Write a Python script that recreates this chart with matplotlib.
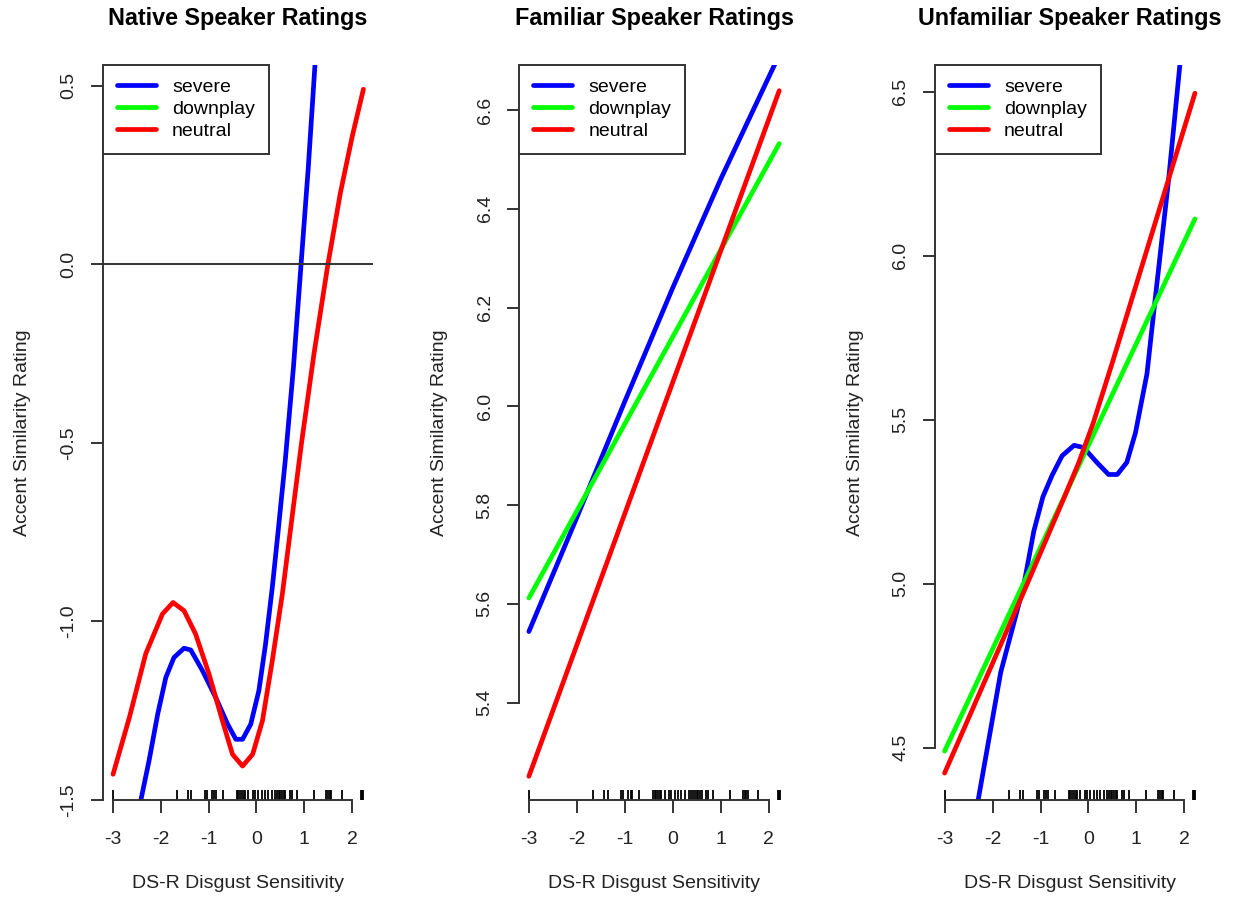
## three panels of predicted accent similarity vs DS-R disgust sensitivity
import matplotlib.pyplot as plt

plt.rcParams['font.family'] = ['Liberation Sans', 'DejaVu Sans']
plt.rcParams['axes.unicode_minus'] = False

## rug of observed DS-R scores (same participants in every panel)
rug_x = [-3.0, -1.66, -1.43, -1.36, -1.07, -1.03, -0.93, -0.88, -0.84, -0.70,
         -0.41, -0.38, -0.34, -0.31, -0.27, -0.24, -0.17, -0.08, -0.03, 0.04,
         0.11, 0.18, 0.25, 0.33, 0.39, 0.43, 0.46, 0.50, 0.53, 0.57, 0.60,
         0.70, 0.74, 0.84, 1.19, 1.46, 1.50, 1.53, 1.56, 1.78, 2.19, 2.21, 2.23]

## native speakers
native_severe_x = [-2.41, -2.24, -2.06, -1.89, -1.72, -1.51, -1.37, -1.125, -0.85, -0.60,
                   -0.43, -0.29, -0.12, 0.05, 0.19, 0.33, 0.45, 0.60, 0.77, 0.93, 1.08, 1.22]
native_severe_y = [-1.50, -1.39, -1.26, -1.157, -1.101, -1.075, -1.08, -1.138, -1.213, -1.288,
                   -1.330, -1.330, -1.288, -1.194, -1.063, -0.905, -0.75, -0.55, -0.29, 0.0, 0.27, 0.558]
native_neutral_x = [-2.99, -2.65, -2.31, -1.96, -1.74, -1.51, -1.27, -0.99, -0.71, -0.50, -0.29,
                    -0.08, 0.125, 0.33, 0.54, 0.75, 0.94, 1.2, 1.49, 1.75, 2.0, 2.23]
native_neutral_y = [-1.428, -1.269, -1.091, -0.979, -0.947, -0.970, -1.035, -1.147, -1.278, -1.372, -1.405,
                    -1.372, -1.278, -1.11, -0.923, -0.70, -0.50, -0.25, 0.0, 0.2, 0.36, 0.49]

## familiar speakers
familiar_severe_x = [-3.0, -2.0, -1.0, 0.0, 1.0, 2.13]
familiar_severe_y = [5.544, 5.775, 6.01, 6.24, 6.46, 6.693]
familiar_downplay_x = [-3.0, 2.22]
familiar_downplay_y = [5.612, 6.532]
familiar_neutral_x = [-3.0, 2.22]
familiar_neutral_y = [5.251, 6.639]

## unfamiliar speakers
unfamiliar_severe_x = [-2.30, -1.83, -1.52, -1.35, -1.14, -0.95, -0.76, -0.55, -0.30, -0.10,
                       0.18, 0.42, 0.60, 0.80, 0.98, 1.22, 1.38, 1.67, 1.905]
unfamiliar_severe_y = [4.341, 4.73, 4.90, 4.995, 5.16, 5.265, 5.33, 5.39, 5.422, 5.415,
                       5.369, 5.333, 5.333, 5.37, 5.46, 5.64, 5.853, 6.23, 6.58]
unfamiliar_downplay_x = [-3.0, 2.22]
unfamiliar_downplay_y = [4.490, 6.112]
unfamiliar_neutral_x = [-3.0, -1.35, -0.5, -0.2, 0.1, 0.5, 2.22]
unfamiliar_neutral_y = [4.423, 4.975, 5.265, 5.37, 5.49, 5.675, 6.495]

x_ticks = [-3, -2, -1, 0, 1, 2]
line_colors = {'severe': '#0000ff', 'downplay': '#00ff00', 'neutral': '#ff0000'}
axis_col = '#333333'

fig = plt.figure(figsize=(12.33, 9), dpi=100)
W, H = 1233.0, 900.0


def draw_panel(left_px, title, ylim, yticks, curves, zero_line=False):
    ax = fig.add_axes([left_px / W, 100 / H, 270 / W, 735 / H])
    for name in ['severe', 'downplay', 'neutral']:
        xs, ys = curves.get(name, ([], []))
        ax.plot(xs, ys, color=line_colors[name], lw=3.4, solid_capstyle='round',
                solid_joinstyle='round', label=name)
    if zero_line:
        ax.axhline(0, color=axis_col, lw=1.4)
    ## rug along the bottom
    ax.vlines(rug_x, 0, 10 / 735., transform=ax.get_xaxis_transform(), color='black', lw=1.3)

    ax.set_xlim(-3.2, 2.43)
    ax.set_ylim(*ylim)
    ax.set_xticks(x_ticks)
    ax.set_xticklabels([str(t) for t in x_ticks])
    ax.set_yticks(yticks)
    ax.set_yticklabels(['%.1f' % t for t in yticks])

    for side in ['top', 'right']:
        ax.spines[side].set_visible(False)
    ax.spines['left'].set_bounds(yticks[0], yticks[-1])
    ax.spines['bottom'].set_bounds(-3, 2)
    for side in ['left', 'bottom']:
        ax.spines[side].set_linewidth(1.4)
        ax.spines[side].set_color(axis_col)

    ax.tick_params(axis='both', direction='out', length=9, width=1.4, color=axis_col,
                   labelsize=14, labelcolor='#222222')
    ax.tick_params(axis='x', pad=13)
    ax.tick_params(axis='y', pad=9.5, labelrotation=90)
    for lab in ax.get_yticklabels():
        lab.set_va('center')

    ax.set_xlabel('DS-R Disgust Sensitivity', fontsize=14, va='center', color='#222222')
    ax.xaxis.set_label_coords(0.5, -83 / 735.)
    ax.set_ylabel('Accent Similarity Rating', fontsize=14, va='center', color='#222222')
    ax.yaxis.set_label_coords(-80 / 270., 0.5)
    ax.set_title(title, fontsize=16.8, fontweight='bold', y=782 / 735., va='center', pad=0)

    leg = ax.legend(loc='upper left', bbox_to_anchor=(0, 1), borderaxespad=0, fontsize=14,
                    fancybox=False, framealpha=1, edgecolor=axis_col, handlelength=2.0,
                    handletextpad=0.85, labelspacing=0.22, borderpad=0.7)
    leg.get_frame().set_linewidth(1.4)
    return ax


draw_panel(103, 'Native Speaker Ratings', (-1.5, 0.558), [-1.5, -1.0, -0.5, 0.0, 0.5],
           {'severe': (native_severe_x, native_severe_y),
            'neutral': (native_neutral_x, native_neutral_y)}, zero_line=True)
draw_panel(519.3, 'Familiar Speaker Ratings', (5.203, 6.691), [5.4, 5.6, 5.8, 6.0, 6.2, 6.4, 6.6],
           {'severe': (familiar_severe_x, familiar_severe_y),
            'downplay': (familiar_downplay_x, familiar_downplay_y),
            'neutral': (familiar_neutral_x, familiar_neutral_y)})
draw_panel(935, 'Unfamiliar Speaker Ratings', (4.341, 6.581), [4.5, 5.0, 5.5, 6.0, 6.5],
           {'severe': (unfamiliar_severe_x, unfamiliar_severe_y),
            'downplay': (unfamiliar_downplay_x, unfamiliar_downplay_y),
            'neutral': (unfamiliar_neutral_x, unfamiliar_neutral_y)})

plt.savefig('out.png', dpi=100)
